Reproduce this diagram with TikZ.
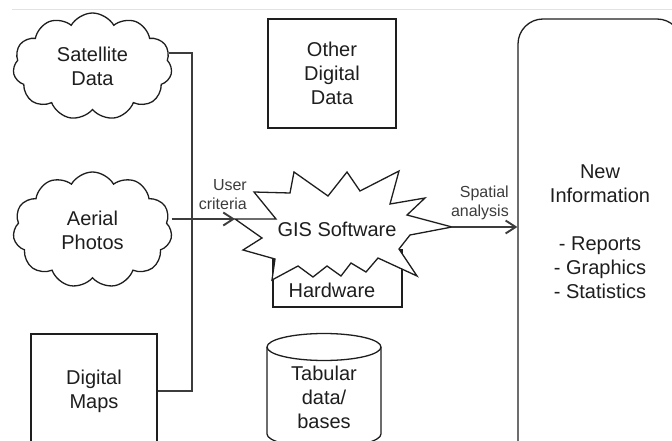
\documentclass[tikz,border=0pt]{standalone}
\usepackage{fontspec}
\setmainfont{Liberation Sans}
\usetikzlibrary{shapes.symbols,arrows.meta}
\definecolor{ink}{HTML}{1E1E1E}
\definecolor{wire}{HTML}{3C3C3C}
\definecolor{rulecol}{HTML}{FFFF00}

\begin{document}
\begin{tikzpicture}[x=1pt,y=-1pt,
  outline/.style={draw=ink, line width=1.3pt},
  wire/.style={draw=wire, line width=1.9pt, line join=miter},
  arrowed/.style={wire, -{Straight Barb[length=10pt,width=13pt,line width=1.9pt]}},
  big/.style={font=\fontsize{20}{24}\selectfont, text=ink, align=center},
  small/.style={font=\fontsize{16}{19}\selectfont, text=wire, align=right, inner sep=0pt},
  puffy/.style={cloud, cloud puffs=11, cloud puff arc=120, cloud ignores aspect,
                outline, inner sep=0pt},
]
\useasboundingbox (0,0) rectangle (672,441);
\clip (0,0) rectangle (672,441);

% thin rule along the top
\draw[rulecol, line width=1.2pt] (12,9.5) -- (672,9.5);

% data sources
\node[puffy, big, minimum width=159pt, minimum height=107pt] (sat) at (92.5,66.5) {Satellite\\Data};
\node[puffy, big, minimum width=159pt, minimum height=116pt] (aerial) at (92.5,230) {Aerial\\Photos};
\node[outline, big, minimum width=126pt, minimum height=114pt, inner sep=0pt] (maps) at (94,391) {Digital\\Maps};
\node[outline, big, minimum width=128pt, minimum height=109pt, inner sep=0pt] (other) at (332,73.5) {Other\\Digital\\Data};

% tabular data cylinder
\draw[outline, fill=white] (267,347) -- (267,434)
  arc[start angle=180, end angle=0, x radius=57, y radius=13.5] -- (381,347);
\draw[outline, fill=white] (324,347) ellipse[x radius=57, y radius=13.5];
\node[big] (tab) at (324,397) {Tabular\\data/\\bases};

% hardware base under the software
\draw[outline] (273,250) rectangle (402,307);
\node[big] (hw) at (332,290) {Hardware};

% GIS software burst
\coordinate (gisL) at (235,219);
\coordinate (gisR) at (452,227);
\draw[outline, fill=white, line join=miter]
  (gisL) -- (276,219) -- (254,192) -- (290,193) -- (294,172) -- (328,196)
  -- (347,172) -- (360,191) -- (399,171) -- (390,204) -- (425,198) -- (407,215)
  -- (gisR) -- (410,235) -- (399,249) -- (417,276) -- (378,258) -- (366,272)
  -- (351,263) -- (341,276) -- (327,266) -- (313,277) -- (298,266) -- (272,280)
  -- (275,259) -- (243,250) -- (262,238) -- cycle;
\node[big] (gis) at (337,229) {GIS Software};

% new information panel
\node[outline, rounded corners=25pt, minimum width=164pt, minimum height=500pt, inner sep=0pt]
  (info) at (600,269) {};
\node[big] (infoT) at (600,232) {New\\Information\\[24pt]- Reports\\- Graphics\\- Statistics};

% collecting bus and flows
\coordinate (bus) at (192,0);
\draw[wire] (sat.10) -| (bus |- maps.east) -- (maps.east);
\draw[arrowed] (aerial.east |- gisL) -- (gisL);
\draw[arrowed] (gisR) -- (info.west |- gisR);

\node[small, anchor=east] (crit) at (247,195) {User\\criteria};
\node[small, anchor=east] (spat) at (509,203) {Spatial\\analysis};
\end{tikzpicture}
\end{document}
